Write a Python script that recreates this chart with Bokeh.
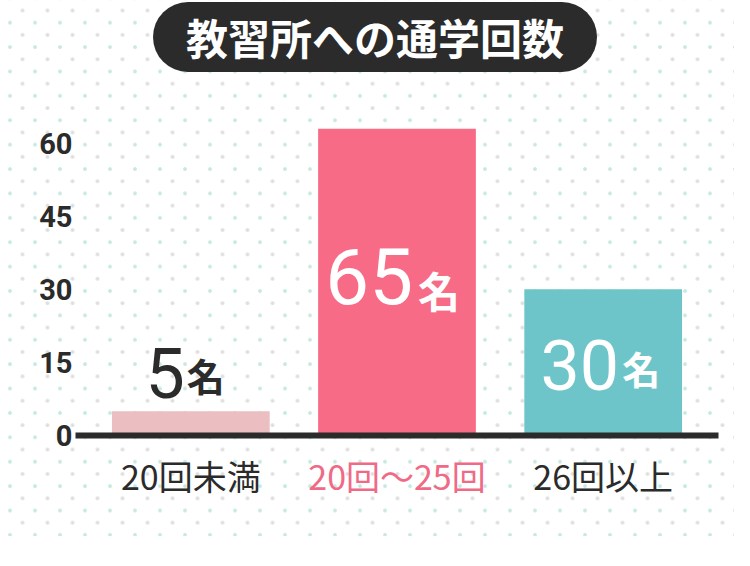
from bokeh.plotting import figure
from bokeh.layouts import column
from bokeh.models import FixedTicker, Span, Div, ColumnDataSource, FactorRange, Range1d
from bokeh.core.properties import value
from bokeh.embed import file_html
from bokeh.resources import INLINE

# ---- data ----
categories = ["20回未満", "20回～25回", "26回以上"]
counts = [5, 65, 30]
unit = "名"
y_ticks = [0, 15, 30, 45, 60]
title_text = "教習所への通学回数"

# ---- styles ----
bar_colors = ["#ebbec2", "#f76b86", "#6ec5c9"]
count_text_colors = ["#2b2b2b", "#ffffff", "#ffffff"]
xlabel_colors = ["#2b2b2b", "#f06a86", "#2b2b2b"]
label_y = [12.9, 32.7, 14.4]
num_sizes = ["70px", "78px", "70px"]
unit_sizes = ["38px", "42px", "38px"]
num_offsets = [-6, 16, 16]
unit_offsets = [-4, 21, 19]
unit_yoffsets = [1.5, 13, 2]
DARK = "#2b2b2b"
W = 734
TITLE_H = 74

title_div = Div(
    text=(f'<div style="margin:2px 0 0 153px;width:444px;height:70px;line-height:70px;'
          f'border-radius:35px;background:{DARK};color:#ffffff;text-align:center;'
          f'font-family:\'Noto Sans CJK JP\';font-weight:bold;font-size:42px;white-space:nowrap;">'
          f'{title_text}</div>'),
    width=W, height=TITLE_H, margin=(0, 0, 0, 0))

p = figure(width=W, height=536 - TITLE_H,
           x_range=FactorRange(*categories, range_padding=0.0593, range_padding_units="absolute"),
           y_range=Range1d(-17.85, 63), output_backend="svg", toolbar_location=None,
           min_border_left=75, min_border_right=16, min_border_bottom=14,
           min_border_top=128 - TITLE_H, margin=(0, 0, 0, 0))
p.background_fill_color = None
p.border_fill_color = None
p.outline_line_color = None
p.xgrid.visible = False
p.ygrid.visible = False
p.xaxis.visible = False

src = ColumnDataSource(dict(
    cat=categories, cnt=counts, num=[str(c) for c in counts], unit=[unit] * len(counts),
    color=bar_colors, tcolor=count_text_colors, xcolor=xlabel_colors, ly=label_y,
    nsize=num_sizes, usize=unit_sizes, noff=num_offsets, uoff=unit_offsets, uyoff=unit_yoffsets,
    xly=[-8.2] * len(counts),
))

p.vbar(x="cat", top="cnt", bottom=0, width=0.765, color="color", line_color=None, source=src)

p.add_layout(Span(location=0, dimension="width", line_color=DARK, line_width=6, line_cap="round"))

p.text(x="cat", y="ly", text="num", text_color="tcolor", text_font=value("Roboto"),
       text_font_size="nsize", text_align="right", text_baseline="middle",
       x_offset="noff", source=src)
p.text(x="cat", y="ly", text="unit", text_color="tcolor", text_font=value("Noto Sans CJK JP"),
       text_font_size="usize", text_font_style="bold", text_align="left", text_baseline="middle",
       x_offset="uoff", y_offset="uyoff", source=src)
p.text(x="cat", y="xly", text="cat", text_color="xcolor", text_font=value("Noto Sans CJK JP"),
       text_font_size="34px", text_font_style="normal", text_align="center", text_baseline="middle",
       source=src)

ya = p.yaxis[0]
ya.ticker = FixedTicker(ticks=y_ticks)
ya.axis_line_color = None
ya.major_tick_line_color = None
ya.minor_tick_line_color = None
ya.major_tick_out = 0
ya.major_label_standoff = 3
ya.major_label_text_align = "center"
ya.major_label_text_font = "Roboto"
ya.major_label_text_font_style = "bold"
ya.major_label_text_font_size = "29px"
ya.major_label_text_color = DARK

layout = column(title_div, p, spacing=0, width=W)
layout.styles = {
    "background-color": "#ffffff",
    "background-image": (
        "radial-gradient(circle at 3px 3px, #c6e9e4 0px, #c6e9e4 1.4px, rgba(255,255,255,0) 2.3px),"
        "radial-gradient(circle at 3px 3px, #dedede 0px, #dedede 1.4px, rgba(255,255,255,0) 2.3px)"
    ),
    "background-size": "25px 24.4px, 25px 24.4px",
    "background-position": "7px 19.7px, 19.5px 7.5px",
}

open("out.html", "w").write(file_html(layout, INLINE))
